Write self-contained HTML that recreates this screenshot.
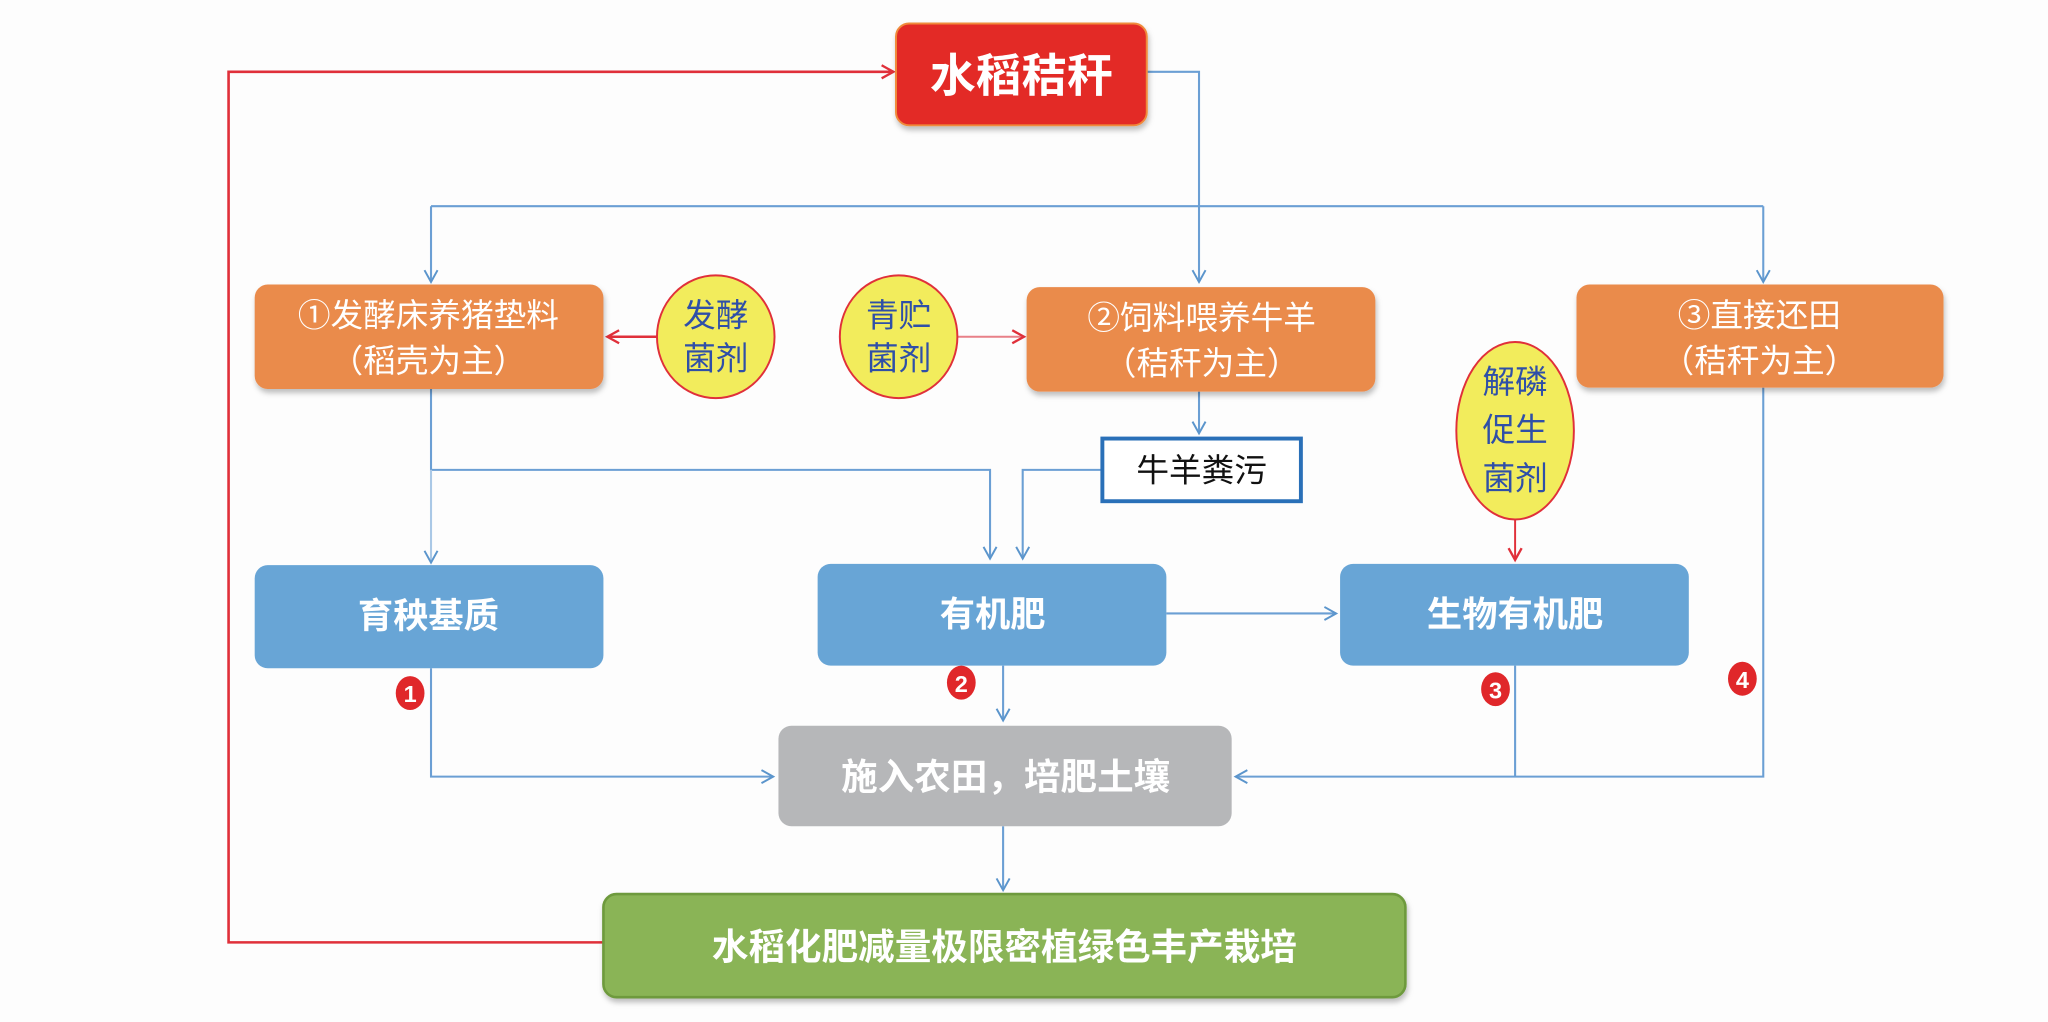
<!DOCTYPE html>
<html><head><meta charset="utf-8"><style>
html,body{margin:0;padding:0;background:#fdfdfd;}
svg{display:block;}
text{font-family:"Liberation Sans","Noto Sans CJK SC",sans-serif;}
</style></head><body>
<svg width="2048" height="1022" viewBox="0 0 1568 783" preserveAspectRatio="none" xmlns="http://www.w3.org/2000/svg">
<defs>
<marker id="ab" markerWidth="12" markerHeight="12" refX="10" refY="6" orient="auto" markerUnits="userSpaceOnUse"><path d="M1,1 L10,6 L1,11" fill="none" stroke="#5b95cc" stroke-width="1.5"/></marker>
<marker id="ar" markerWidth="12" markerHeight="12" refX="10" refY="6" orient="auto" markerUnits="userSpaceOnUse"><path d="M1,1 L10,6 L1,11" fill="none" stroke="#e0303a" stroke-width="1.8"/></marker>
<filter id="sh" x="-10%" y="-10%" width="120%" height="130%"><feDropShadow dx="1" dy="3" stdDeviation="2" flood-color="#000" flood-opacity="0.25"/></filter>
</defs>
<rect width="1568" height="783" fill="#fdfdfd"/>
<!-- red loop -->
<path d="M462,722 L175,722 L175,55 L684,55" fill="none" stroke="#e0303a" stroke-width="2" marker-end="url(#ar)"/>
<!-- blue connectors -->
<g fill="none" stroke="#6b9fd4" stroke-width="1.6">
<path d="M878,55 L918,55 L918,216" marker-end="url(#ab)"/>
<path d="M330,158 L1350,158"/>
<path d="M330,158 L330,216" marker-end="url(#ab)"/>
<path d="M1350,158 L1350,216" marker-end="url(#ab)"/>
<path d="M330,298 L330,360 L758,360 L758,428" marker-end="url(#ab)"/>
<path d="M330,360 L330,431" stroke="#aac8e6" marker-end="url(#ab)"/>
<path d="M918,300 L918,332" marker-end="url(#ab)"/>
<path d="M843,360 L783,360 L783,428" marker-end="url(#ab)"/>
<path d="M893,470 L1023,470" marker-end="url(#ab)"/>
<path d="M330,512 L330,595 L592,595" marker-end="url(#ab)"/>
<path d="M768,510 L768,552" marker-end="url(#ab)"/>
<path d="M1160,510 L1160,595"/>
<path d="M1350,297 L1350,595 L946,595" marker-end="url(#ab)"/>
<path d="M768,633 L768,682" marker-end="url(#ab)"/>
</g>
<!-- red arrows from circles -->
<path d="M503,258 L465,258" stroke="#e0303a" stroke-width="2" fill="none" marker-end="url(#ar)"/>
<path d="M733,258 L784,258" stroke="#e88088" stroke-width="1.5" fill="none" marker-end="url(#ar)"/>
<path d="M1160,398 L1160,429" stroke="#e0303a" stroke-width="1.5" fill="none" marker-end="url(#ar)"/>
<!-- red top box -->
<rect x="686" y="18" width="192" height="78" rx="10" fill="#e32a27" stroke="#f08a3a" stroke-width="1.5" filter="url(#sh)"/>
<text x="782" y="70" font-size="35" font-weight="bold" fill="#fff" text-anchor="middle">水稻秸秆</text>
<!-- orange boxes -->
<g filter="url(#sh)">
<rect x="195" y="218" width="267" height="80" rx="10" fill="#ea8b4c"/>
<rect x="786" y="220" width="267" height="80" rx="10" fill="#ea8b4c"/>
<rect x="1207" y="218" width="281" height="79" rx="10" fill="#ea8b4c"/>
</g>
<g font-size="25" fill="#fff" text-anchor="middle">
<text x="328" y="250">①发酵床养猪垫料</text>
<text x="328" y="285">（稻壳为主）</text>
<text x="920" y="252">②饲料喂养牛羊</text>
<text x="920" y="287">（秸秆为主）</text>
<text x="1347" y="250">③直接还田</text>
<text x="1347" y="285">（秸秆为主）</text>
</g>
<!-- yellow ellipses -->
<g fill="#f2ec5c" stroke="#e0303a" stroke-width="1.5">
<ellipse cx="548" cy="258" rx="45" ry="47"/>
<ellipse cx="688" cy="258" rx="45" ry="47"/>
<ellipse cx="1160" cy="330" rx="45" ry="68"/>
</g>
<g font-size="25" fill="#2f4fa8" text-anchor="middle">
<text x="548" y="250">发酵</text><text x="548" y="283">菌剂</text>
<text x="688" y="250">青贮</text><text x="688" y="283">菌剂</text>
<text x="1160" y="301">解磷</text><text x="1160" y="338">促生</text><text x="1160" y="375">菌剂</text>
</g>
<!-- manure box -->
<rect x="844" y="336" width="152" height="48" fill="#fff" stroke="#2a70b8" stroke-width="3"/>
<text x="920" y="369" font-size="25" fill="#111" text-anchor="middle">牛羊粪污</text>
<!-- blue boxes -->
<g fill="#68a5d6">
<rect x="195" y="433" width="267" height="79" rx="10"/>
<rect x="626" y="432" width="267" height="78" rx="10"/>
<rect x="1026" y="432" width="267" height="78" rx="10"/>
</g>
<g font-size="27" font-weight="bold" fill="#fff" text-anchor="middle">
<text x="328" y="481">育秧基质</text>
<text x="760" y="480">有机肥</text>
<text x="1160" y="480">生物有机肥</text>
</g>
<!-- gray box -->
<rect x="596" y="556" width="347" height="77" rx="10" fill="#b6b7b9"/>
<text x="770" y="605" font-size="28" font-weight="bold" fill="#fff" text-anchor="middle">施入农田，培肥土壤</text>
<!-- green box -->
<rect x="462" y="685" width="614" height="79" rx="10" fill="#8ab456" stroke="#6e9a3c" stroke-width="2" filter="url(#sh)"/>
<text x="769" y="735" font-size="28" font-weight="bold" fill="#fff" text-anchor="middle">水稻化肥减量极限密植绿色丰产栽培</text>
<!-- number badges -->
<g fill="#e0272a">
<ellipse cx="314" cy="531" rx="11" ry="13"/>
<ellipse cx="736" cy="523" rx="11" ry="13"/>
<ellipse cx="1145" cy="528" rx="11" ry="13"/>
<ellipse cx="1334" cy="520" rx="11" ry="13"/>
</g>
<g font-size="18" font-weight="bold" fill="#fff" text-anchor="middle">
<text x="314" y="538">1</text><text x="736" y="530">2</text><text x="1145" y="535">3</text><text x="1334" y="527">4</text>
</g>
</svg>
</body></html>
